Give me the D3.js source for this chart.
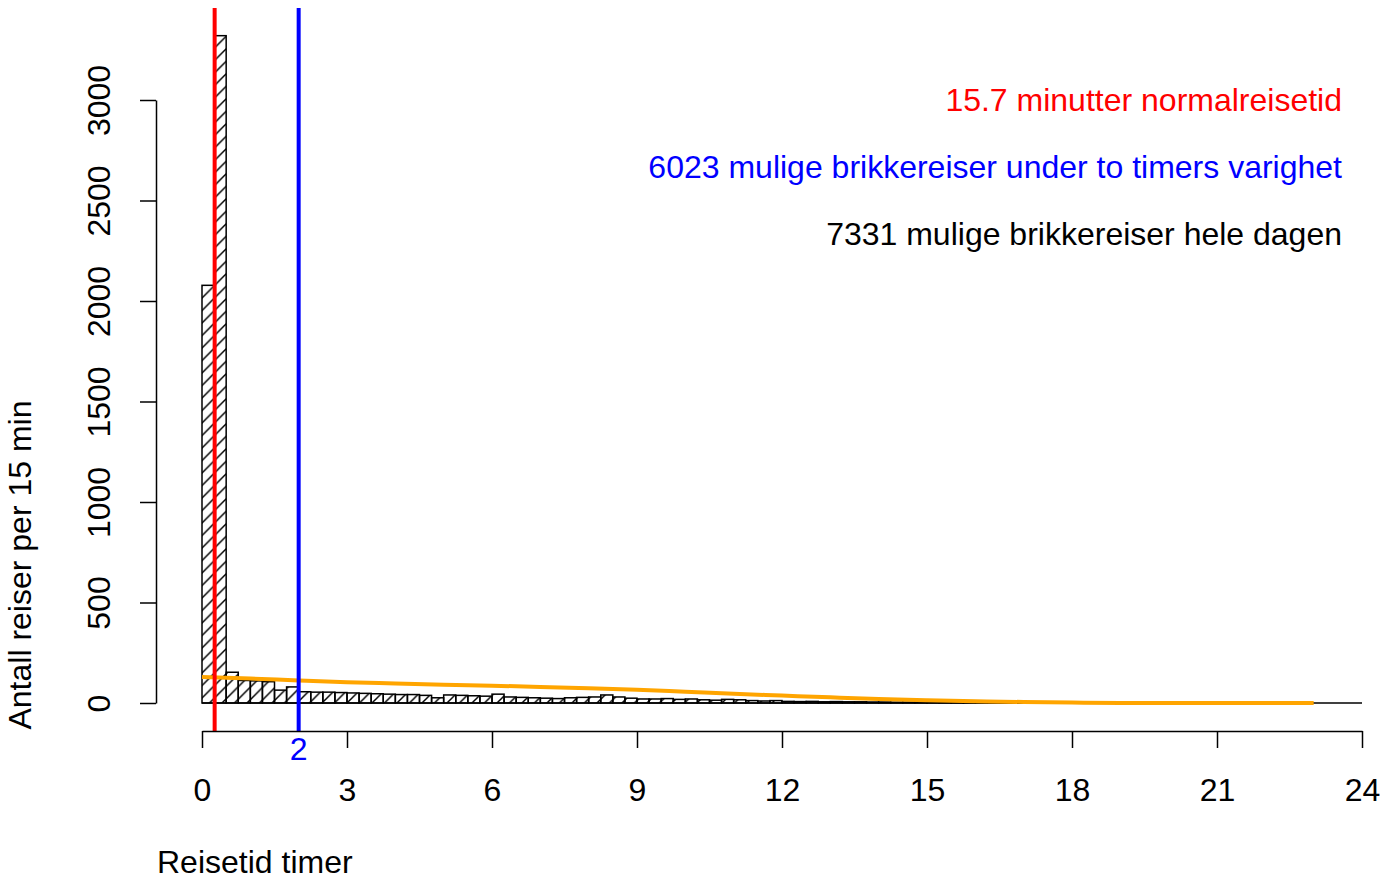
<!DOCTYPE html>
<html>
<head>
<meta charset="utf-8">
<title>Reisetid histogram</title>
<script src="https://d3js.org/d3.v7.min.js"></script>
<style>
  body { margin: 0; background: #fff; }
  svg text { font-family: "Liberation Sans", Arial, sans-serif; }
</style>
</head>
<body>
<svg width="1395" height="880"></svg>
<script>
// antall reiser per 15 min (bins 0.25 t, 0-24 t)
var counts = [
  2078, 3320, 153, 112, 110, 106, 64, 80,
  56, 54, 54, 52, 50, 48, 46, 44,
  42, 42, 38, 26, 40, 38, 36, 34,
  44, 30, 28, 26, 24, 22, 26, 28,
  30, 40, 30, 24, 20, 20, 22, 18,
  20, 16, 14, 18, 16, 12, 10, 12,
  8, 7, 8, 6, 7, 6, 6, 5,
  5, 4, 4, 4, 3, 3, 3, 2,
  2, 2, 2, 1, 1, 1, 1, 1,
  1, 1, 0, 1, 0, 0, 1, 0,
  0, 0, 0, 0, 0, 0, 0, 0,
  0, 0, 0, 0, 0, 0, 0, 0
];
var binWidth = 0.25;

// oransje kurve
var curveHours = [0, 1, 2, 3, 4, 5, 6, 7, 8, 9, 10, 11, 12, 13, 14, 15, 16, 17, 18, 19, 20, 21, 22, 23];
var curveValues = [130, 122, 112, 103, 97, 91, 86, 80, 73, 66, 56, 46, 37, 28, 20, 14, 9, 5, 2, 0, 0, 0, 0, 0];

var xTicks = [0, 3, 6, 9, 12, 15, 18, 21, 24];
var yTicks = [0, 500, 1000, 1500, 2000, 2500, 3000];

var normalTime = 15.7 / 60;   // timer
var limitTime = 2;

var notes = [
  {text: "15.7 minutter normalreisetid", color: "red"},
  {text: "6023 mulige brikkereiser under to timers varighet", color: "blue"},
  {text: "7331 mulige brikkereiser hele dagen", color: "black"}
];

var fontSize = 32;
var svg = d3.select("svg");

var x = d3.scaleLinear().domain([0, 24]).range([202, 1362]);
var y = d3.scaleLinear().domain([0, 3000]).range([703, 100]);

// skravering
svg.append("defs").append("pattern")
    .attr("id", "hatch")
    .attr("patternUnits", "userSpaceOnUse")
    .attr("width", 12.5).attr("height", 12.5)
  .append("path")
    .attr("d", "M-2,2 L2,-2 M0,12.5 L12.5,0 M10.5,14.5 L14.5,10.5")
    .attr("stroke", "black")
    .attr("stroke-width", 1.5);

// histogram
svg.append("g").selectAll("rect")
    .data(counts)
    .enter()
    .append("rect")
    .attr("x", function (d, i) { return x(i * binWidth); })
    .attr("y", function (d) { return y(d); })
    .attr("width", function () { return x(binWidth) - x(0); })
    .attr("height", function (d) { return y(0) - y(d); })
    .attr("fill", "url(#hatch)")
    .attr("stroke", "black")
    .attr("stroke-width", 1.5);

// grunnlinje (tomme bins)
svg.append("line")
    .attr("x1", x(0)).attr("x2", x(counts.length * binWidth))
    .attr("y1", y(0)).attr("y2", y(0))
    .attr("stroke", "black").attr("stroke-width", 1.5);

// kurve
var line = d3.line()
    .x(function (d, i) { return x(curveHours[i]); })
    .y(function (d) { return y(d); })
    .curve(d3.curveMonotoneX);
svg.append("path")
    .datum(curveValues)
    .attr("d", line)
    .attr("fill", "none")
    .attr("stroke", "orange")
    .attr("stroke-width", 4);

// vertikale linjer
svg.append("line")
    .attr("x1", x(normalTime)).attr("x2", x(normalTime))
    .attr("y1", 8).attr("y2", 731)
    .attr("stroke", "red").attr("stroke-width", 4);
svg.append("line")
    .attr("x1", x(limitTime)).attr("x2", x(limitTime))
    .attr("y1", 8).attr("y2", 731)
    .attr("stroke", "blue").attr("stroke-width", 4);

// x-akse
var xAxis = svg.append("g")
    .attr("transform", "translate(0,731)")
    .call(d3.axisBottom(x).tickValues(xTicks).tickSize(17).tickSizeOuter(0).tickPadding(30));
xAxis.selectAll("path, line").attr("stroke", "black").attr("stroke-width", 1.5);
xAxis.selectAll("text").attr("font-size", fontSize).attr("fill", "black")
    .attr("font-family", "Liberation Sans, Arial, sans-serif");

svg.append("text")
    .attr("x", x(limitTime))
    .attr("y", 760)
    .attr("text-anchor", "middle")
    .attr("font-size", fontSize)
    .attr("fill", "blue")
    .text(limitTime);

// y-akse
var yAxis = svg.append("g")
    .attr("transform", "translate(156,0)")
    .call(d3.axisLeft(y).tickValues(yTicks).tickFormat(d3.format("d")).tickSize(16).tickSizeOuter(0));
yAxis.selectAll("path, line").attr("stroke", "black").attr("stroke-width", 1.5);
yAxis.selectAll("text")
    .attr("x", null).attr("dy", null)
    .attr("transform", "translate(-46,0) rotate(-90)")
    .attr("text-anchor", "middle")
    .attr("font-size", fontSize).attr("fill", "black")
    .attr("font-family", "Liberation Sans, Arial, sans-serif");

// aksetitler
svg.append("text")
    .attr("x", 157).attr("y", 873)
    .attr("font-size", fontSize)
    .text("Reisetid timer");
svg.append("text")
    .attr("transform", "translate(31,565) rotate(-90)")
    .attr("text-anchor", "middle")
    .attr("font-size", fontSize)
    .text("Antall reiser per 15 min");

// tekster oppe til hoyre
svg.append("g").selectAll("text")
    .data(notes)
    .enter()
    .append("text")
    .attr("x", 1342)
    .attr("y", function (d, i) { return 111 + i * 67; })
    .attr("text-anchor", "end")
    .attr("font-size", fontSize)
    .attr("fill", function (d) { return d.color; })
    .text(function (d) { return d.text; });
</script>
</body>
</html>
